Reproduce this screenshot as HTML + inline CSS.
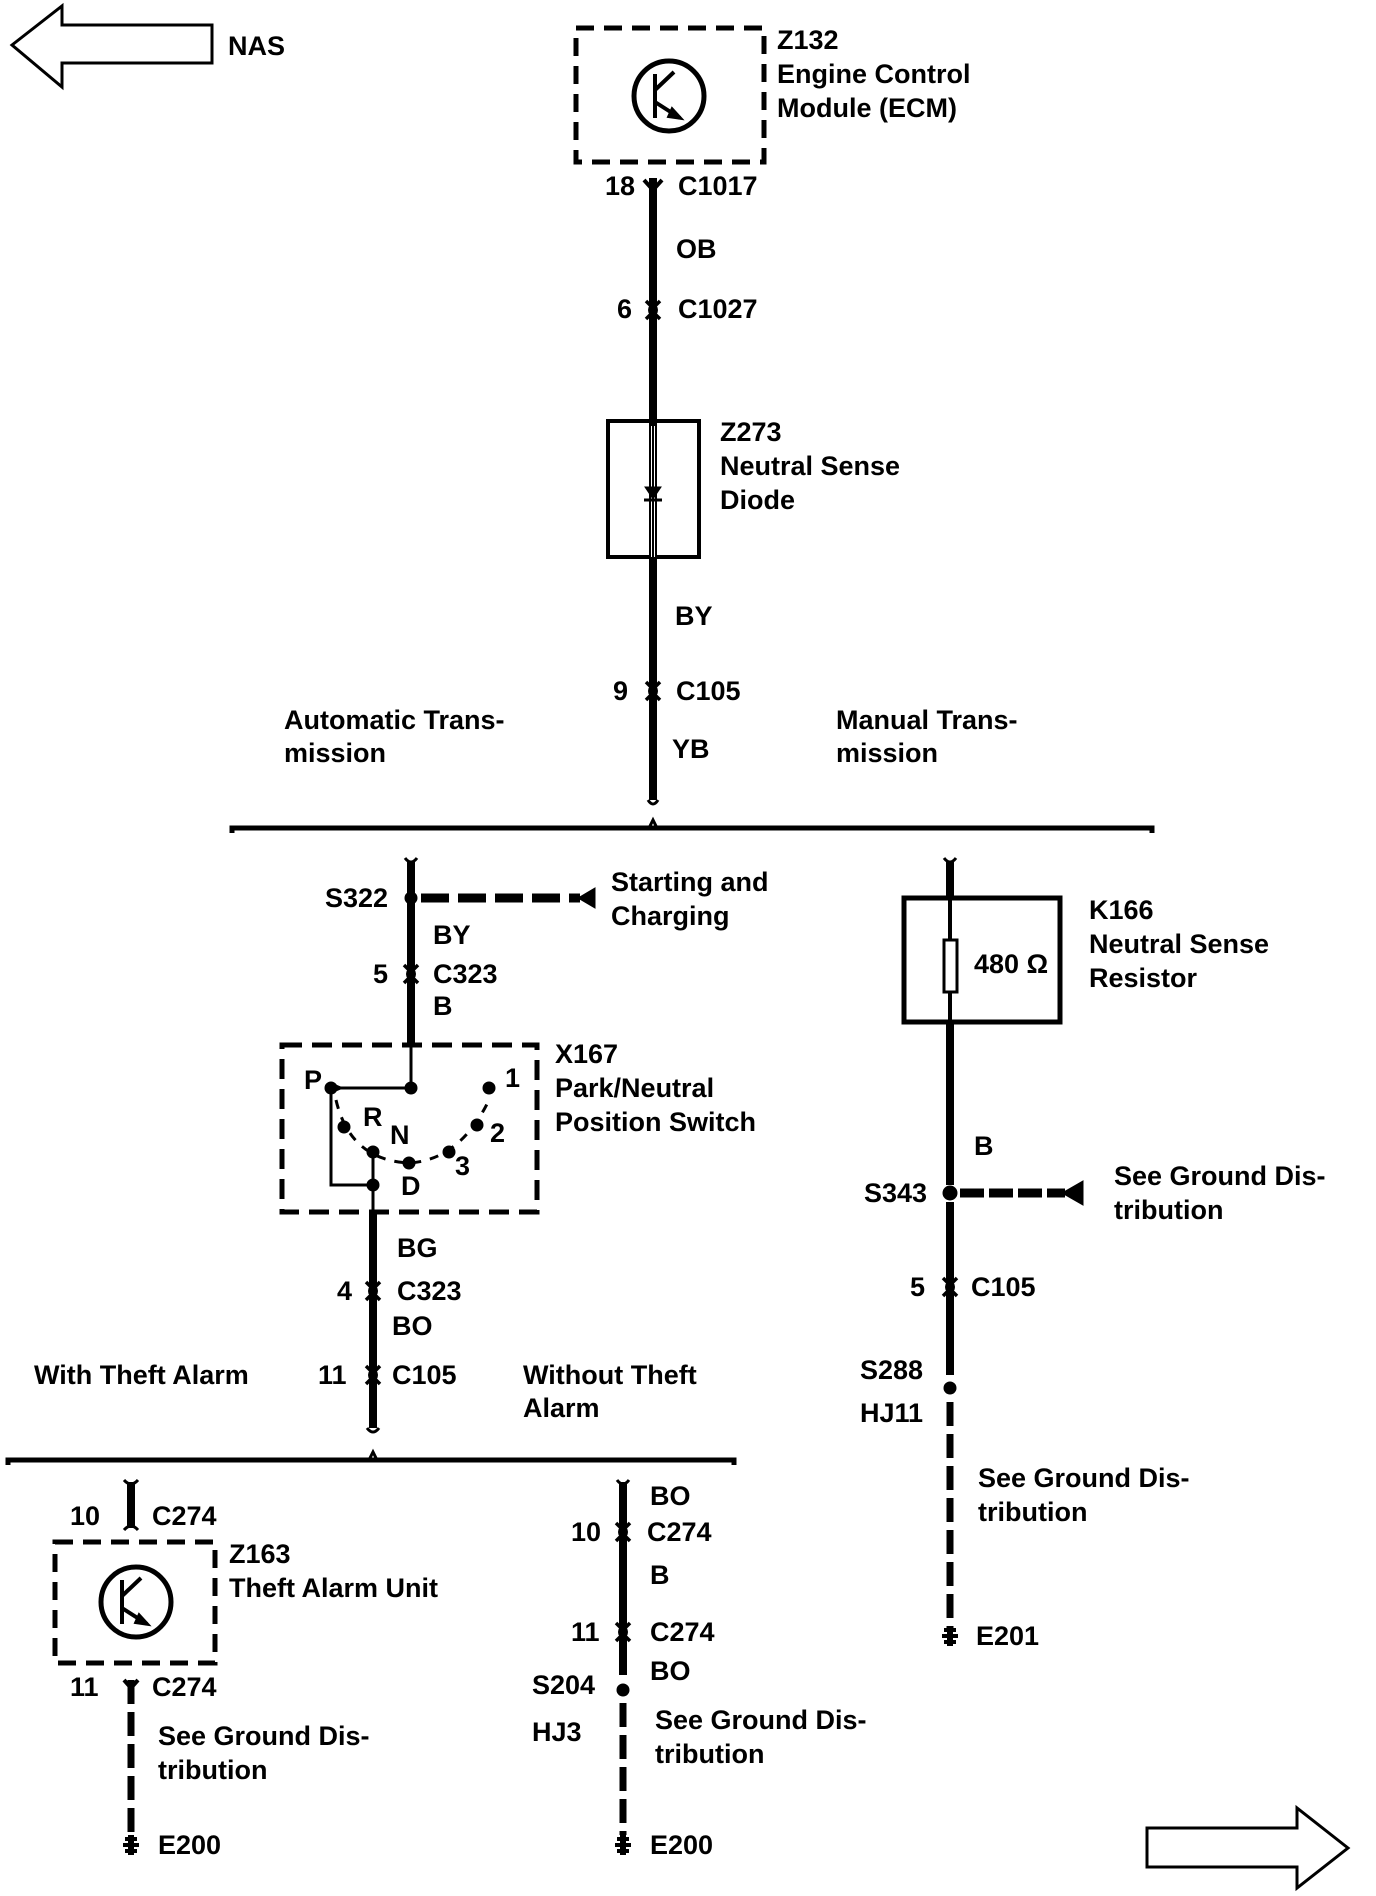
<!DOCTYPE html>
<html><head><meta charset="utf-8"><style>
html,body{margin:0;padding:0;background:#fff;}
svg{display:block;}
text{font-family:"Liberation Sans",sans-serif;font-weight:bold;font-size:27px;fill:#000;}
</style></head><body>
<svg width="1376" height="1896" viewBox="0 0 1376 1896" xmlns="http://www.w3.org/2000/svg">
<defs>
<g id="conn"><path d="M-7,-9 L0,-2 L7,-9 M-7,9 L0,2 L7,9" stroke="#000" stroke-width="3.5" fill="none"/><ellipse cx="0" cy="0" rx="5" ry="6" fill="#000"/></g>
<g id="gnd"><path d="M-8,0 H8 M-6,-6 H6 M-6,6 H6" stroke="#000" stroke-width="4"/><rect x="-3" y="-10" width="6" height="20" fill="#000"/></g>
</defs>
<g fill="none" stroke="#000">
<path d="M12,45 L62,6 V25 H212 V63 H62 V87 Z" stroke-width="3"/>
<path d="M1348,1848 L1297,1808 V1828 H1147 V1867 H1297 V1888 Z" stroke-width="3"/>

<rect x="576" y="28" width="188" height="134" stroke-width="5" stroke-dasharray="18,10"/>
<circle cx="669" cy="96" r="35" stroke-width="5"/>
<path d="M655,74 V118 M655,90 L674,72 M655,102 L680,118" stroke-width="4"/>
<path d="M672,108 L682,119 L668,117 Z" fill="#000" stroke-width="2"/>

<path d="M653,178 V800" stroke-width="8"/>
<path d="M644,180 L653,190 L662,180" stroke-width="4"/>
<rect x="608" y="421" width="91" height="136" stroke-width="4"/>
<path d="M653,426 V557" stroke="#fff" stroke-width="4"/>
<path d="M653,426 V557" stroke-width="2"/>
<path d="M645,487 H661 L653,499 Z" fill="#000" stroke-width="1"/>
<path d="M644,500 H662" stroke-width="3"/>
<path d="M648,800 Q653,808 658,800" stroke-width="3"/>

<path d="M232,833 V828 H1152 V833" stroke-width="5"/>
<path d="M649,828 L653,820 L657,828" stroke-width="3"/>

<path d="M411,862 V1045" stroke-width="8"/>
<path d="M405,858 Q411,866 417,858" stroke-width="3"/>
<circle cx="411" cy="898" r="6" fill="#000"/>
<path d="M421,898 H580" stroke-width="9" stroke-dasharray="28,9"/>
<path d="M578,898 L595,888 V908 Z" fill="#000"/>
<rect x="282" y="1045" width="255" height="167" stroke-width="5" stroke-dasharray="20,10"/>
<path d="M411,1045 V1088 H331 V1185 H373 M373,1152 V1212" stroke-width="3"/>
<circle cx="411" cy="1088" r="6" fill="#000"/><circle cx="331" cy="1088" r="6" fill="#000"/>
<circle cx="373" cy="1185" r="6" fill="#000"/>
<path d="M343,1088 L331,1083 V1093 Z" fill="#000"/>
<path d="M336,1100 Q350,1160 409,1163 Q460,1160 489,1100" stroke-width="3" stroke-dasharray="9,9"/>
<circle cx="344" cy="1127" r="6" fill="#000"/><circle cx="373" cy="1152" r="6" fill="#000"/>
<circle cx="409" cy="1163" r="6" fill="#000"/><circle cx="449" cy="1152" r="6" fill="#000"/>
<circle cx="477" cy="1125" r="6" fill="#000"/><circle cx="489" cy="1088" r="6" fill="#000"/>
<path d="M373,1212 V1428" stroke-width="8"/>
<path d="M367,1428 Q373,1436 379,1428" stroke-width="3"/>

<path d="M8,1465 V1460 H734 V1465" stroke-width="5"/>
<path d="M369,1460 L373,1452 L377,1460" stroke-width="3"/>

<path d="M131,1482 V1528" stroke-width="8"/>
<path d="M124,1480 Q131,1488 138,1480 M124,1530 Q131,1522 138,1530" stroke-width="3"/>
<rect x="55" y="1542" width="160" height="121" stroke-width="5" stroke-dasharray="18,10"/>
<circle cx="136" cy="1602" r="35" stroke-width="5"/>
<path d="M122,1580 V1624 M122,1596 L141,1578 M122,1608 L147,1624" stroke-width="4"/>
<path d="M139,1614 L149,1625 L135,1623 Z" fill="#000" stroke-width="2"/>
<path d="M124,1680 L131,1688 L138,1680" stroke-width="4"/>
<path d="M131,1680 V1835" stroke-width="7" stroke-dasharray="24,8"/>

<path d="M623,1482 V1675" stroke-width="8"/>
<path d="M617,1480 Q623,1488 629,1480" stroke-width="3"/>
<circle cx="623" cy="1690" r="6" fill="#000"/>
<path d="M623,1703 V1835" stroke-width="7" stroke-dasharray="24,8"/>

<path d="M950,862 V1185 M950,1202 V1375" stroke-width="8"/>
<path d="M944,858 Q950,866 956,858" stroke-width="3"/>
<rect x="904" y="898" width="156" height="124" fill="#fff" stroke-width="5"/>
<path d="M950,898 V1022" stroke-width="4"/>
<rect x="944" y="940" width="13" height="52" fill="#fff" stroke-width="3"/>
<circle cx="950" cy="1193" r="7" fill="#000"/>
<path d="M960,1193 H1065" stroke-width="9" stroke-dasharray="24,5"/>
<path d="M1062,1193 L1083,1181 V1205 Z" fill="#000"/>
<circle cx="950" cy="1388" r="6" fill="#000"/>
<path d="M950,1402 V1630" stroke-width="7" stroke-dasharray="24,8"/>
</g>
<use href="#conn" x="653" y="310"/>
<use href="#conn" x="653" y="691"/>
<use href="#conn" x="411" y="974"/>
<use href="#conn" x="373" y="1291"/>
<use href="#conn" x="373" y="1375"/>
<use href="#conn" x="623" y="1532"/>
<use href="#conn" x="623" y="1632"/>
<use href="#conn" x="950" y="1287"/>
<use href="#gnd" x="131" y="1845"/>
<use href="#gnd" x="623" y="1845"/>
<use href="#gnd" x="950" y="1636"/>

<text x="228" y="55">NAS</text>
<text x="777" y="49">Z132</text>
<text x="777" y="83">Engine Control</text>
<text x="777" y="117">Module (ECM)</text>
<text x="605" y="195">18</text><text x="678" y="195">C1017</text>
<text x="676" y="258">OB</text>
<text x="617" y="318">6</text><text x="678" y="318">C1027</text>
<text x="720" y="441">Z273</text>
<text x="720" y="475">Neutral Sense</text>
<text x="720" y="509">Diode</text>
<text x="675" y="625">BY</text>
<text x="613" y="700">9</text><text x="676" y="700">C105</text>
<text x="672" y="758">YB</text>
<text x="284" y="729">Automatic Trans-</text>
<text x="284" y="762">mission</text>
<text x="836" y="729">Manual Trans-</text>
<text x="836" y="762">mission</text>

<text x="325" y="907">S322</text>
<text x="611" y="891">Starting and</text>
<text x="611" y="925">Charging</text>
<text x="433" y="944">BY</text>
<text x="373" y="983">5</text><text x="433" y="983">C323</text>
<text x="433" y="1015">B</text>
<text x="555" y="1063">X167</text>
<text x="555" y="1097">Park/Neutral</text>
<text x="555" y="1131">Position Switch</text>
<text x="304" y="1089">P</text>
<text x="363" y="1126">R</text>
<text x="390" y="1144">N</text>
<text x="401" y="1195">D</text>
<text x="455" y="1175">3</text>
<text x="490" y="1142">2</text>
<text x="505" y="1087">1</text>
<text x="397" y="1257">BG</text>
<text x="337" y="1300">4</text><text x="397" y="1300">C323</text>
<text x="392" y="1335">BO</text>
<text x="34" y="1384">With Theft Alarm</text>
<text x="318" y="1384">11</text><text x="392" y="1384">C105</text>
<text x="523" y="1384">Without Theft</text>
<text x="523" y="1417">Alarm</text>

<text x="70" y="1525">10</text><text x="152" y="1525">C274</text>
<text x="229" y="1563">Z163</text>
<text x="229" y="1597">Theft Alarm Unit</text>
<text x="70" y="1696">11</text><text x="152" y="1696">C274</text>
<text x="158" y="1745">See Ground Dis-</text>
<text x="158" y="1779">tribution</text>
<text x="158" y="1854">E200</text>

<text x="650" y="1505">BO</text>
<text x="571" y="1541">10</text><text x="647" y="1541">C274</text>
<text x="650" y="1584">B</text>
<text x="571" y="1641">11</text><text x="650" y="1641">C274</text>
<text x="650" y="1680">BO</text>
<text x="532" y="1694">S204</text>
<text x="532" y="1741">HJ3</text>
<text x="655" y="1729">See Ground Dis-</text>
<text x="655" y="1763">tribution</text>
<text x="650" y="1854">E200</text>

<text x="1089" y="919">K166</text>
<text x="1089" y="953">Neutral Sense</text>
<text x="1089" y="987">Resistor</text>
<text x="974" y="973">480 Ω</text>
<text x="974" y="1155">B</text>
<text x="864" y="1202">S343</text>
<text x="1114" y="1185">See Ground Dis-</text>
<text x="1114" y="1219">tribution</text>
<text x="910" y="1296">5</text><text x="971" y="1296">C105</text>
<text x="860" y="1379">S288</text>
<text x="860" y="1422">HJ11</text>
<text x="978" y="1487">See Ground Dis-</text>
<text x="978" y="1521">tribution</text>
<text x="976" y="1645">E201</text>
</svg>
</body></html>
